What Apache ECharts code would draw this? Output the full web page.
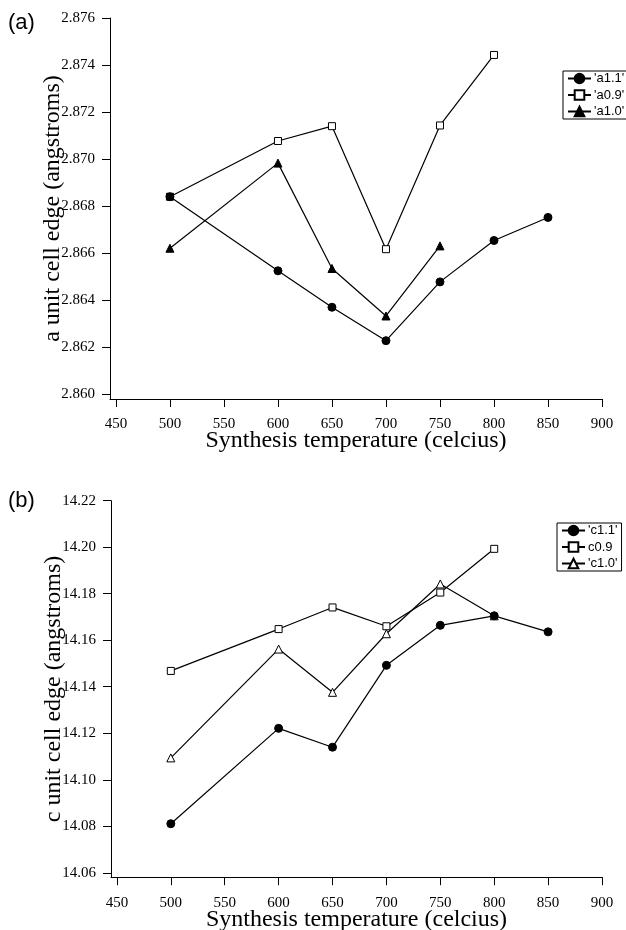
<!DOCTYPE html>
<html><head><meta charset="utf-8">
<script src="https://cdn.jsdelivr.net/npm/echarts@6/dist/echarts.min.js"></script>
<style>html,body{margin:0;padding:0;background:#fff}#c{width:626px;height:930px}</style>
</head><body><div id="c"></div>
<script>
// ---- data ----
const temps = [500, 600, 650, 700, 750, 800, 850];
const xTicks = [450, 500, 550, 600, 650, 700, 750, 800, 850, 900];
const aTicks = [2.860, 2.862, 2.864, 2.866, 2.868, 2.870, 2.872, 2.874, 2.876];
const cTicks = [14.06, 14.08, 14.10, 14.12, 14.14, 14.16, 14.18, 14.20, 14.22];
const a11 = [2.8684, 2.86525, 2.8637, 2.86228, 2.86478, 2.86654, 2.86752];
const a09 = [2.8684, 2.87077, 2.8714, 2.86617, 2.87143, 2.87443];
const a10 = [2.86621, 2.86983, 2.86535, 2.86333, 2.86631];
const c11 = [14.0811, 14.1221, 14.114, 14.1492, 14.1664, 14.1705, 14.1636];
const c09 = [14.1468, 14.1648, 14.1741, 14.166, 14.1805, 14.1993];
const c10 = [14.1094, 14.1562, 14.1376, 14.1628, 14.1842, 14.1705];
const namesA = ["'a1.1'", "'a0.9'", "'a1.0'"];
const namesC = ["'c1.1'", "c0.9", "'c1.0'"];
const xTitle = 'Synthesis temperature (celcius)';
const yTitleA = 'a unit cell edge (angstroms)';
const yTitleC = 'c unit cell edge (angstroms)';

const pairs = arr => arr.map((v, i) => [temps[i], v]);
const serif = 'Liberation Serif';
const sans = 'Liberation Sans';

function xAxis(gi, gap) {
  return {
    type: 'value', gridIndex: gi, min: 444.5, max: 900,
    name: xTitle, nameLocation: 'middle', nameGap: gap, nameMoveOverlap: false,
    nameTextStyle: { fontFamily: serif, fontSize: 24, color: '#000', verticalAlign: 'middle' },
    axisLine: { lineStyle: { color: '#000', width: 1 } },
    axisTick: { show: true, length: 8, inside: false, customValues: xTicks, lineStyle: { color: '#000' } },
    axisLabel: { customValues: xTicks, margin: 18, fontFamily: serif, fontSize: 15, color: '#000' },
    splitLine: { show: false }
  };
}
function yAxis(gi, min, max, ticks, dec, title) {
  return {
    type: 'value', gridIndex: gi, min: min, max: max,
    name: title, nameLocation: 'middle', nameGap: 57, nameRotate: 90, nameMoveOverlap: false,
    nameTextStyle: { fontFamily: serif, fontSize: 24, color: '#000', verticalAlign: 'middle', align: 'center' },
    axisLine: { show: true, lineStyle: { color: '#000', width: 1 } },
    axisTick: { show: true, length: 8, customValues: ticks, lineStyle: { color: '#000' } },
    axisLabel: { customValues: ticks, margin: 15, fontFamily: serif, fontSize: 15, color: '#000',
      formatter: v => Number(v).toFixed(dec) },
    splitLine: { show: false }
  };
}
function ser(name, data, gi, symbol, filled, z) {
  return {
    type: 'line', name: name, data: pairs(data), xAxisIndex: gi, yAxisIndex: gi,
    symbol: symbol, symbolSize: symbol === 'rect' ? 7 : 8, showSymbol: true, z: z,
    lineStyle: { color: '#000', width: 1.2 },
    itemStyle: { color: filled ? '#000' : '#fff', borderColor: '#000', borderWidth: 1 },
    emphasis: { disabled: true }, animation: false
  };
}
function legend(names, left, top) {
  return {
    data: names, orient: 'vertical', left: left, top: top,
    itemWidth: 23, itemHeight: 12, itemGap: 3.5, padding: [1, 4, 1, 4],
    borderColor: '#000', borderWidth: 1, backgroundColor: '#fff',
    textStyle: { fontFamily: sans, fontSize: 13, color: '#000', padding: [0, 0, 0, -2] },
    selectedMode: false
  };
}

const chart = echarts.init(document.getElementById('c'), null, { renderer: 'canvas' });
chart.setOption({
  animation: false,
  backgroundColor: '#fff',
  textStyle: { fontFamily: serif, fontSize: 15, color: '#000' },
  title: [
    { text: '(a)', left: 8, top: 12, textStyle: { fontFamily: sans, fontSize: 22, fontWeight: 'normal', color: '#000' }, padding: 0 },
    { text: '(b)', left: 8, top: 490, textStyle: { fontFamily: sans, fontSize: 22, fontWeight: 'normal', color: '#000' }, padding: 0 }
  ],
  grid: [
    { left: 110, right: 24, top: 18, height: 381, outerBoundsMode: 'none', containLabel: false },
    { left: 111, right: 24, top: 500.7, height: 376.5, outerBoundsMode: 'none', containLabel: false }
  ],
  xAxis: [xAxis(0, 42), xAxis(1, 43)],
  yAxis: [
    yAxis(0, 2.8598, 2.876, aTicks, 3, yTitleA),
    yAxis(1, 14.0581, 14.22, cTicks, 2, yTitleC)
  ],
  legend: [legend(namesA, 563, 71), legend(namesC, 557, 523)],
  series: [
    ser(namesA[0], a11, 0, 'circle', true, 5),
    ser(namesA[1], a09, 0, 'rect', false, 3),
    ser(namesA[2], a10, 0, 'triangle', true, 4),
    ser(namesC[0], c11, 1, 'circle', true, 5),
    ser(namesC[1], c09, 1, 'rect', false, 3),
    ser(namesC[2], c10, 1, 'triangle', false, 4)
  ]
});
</script>
</body></html>
